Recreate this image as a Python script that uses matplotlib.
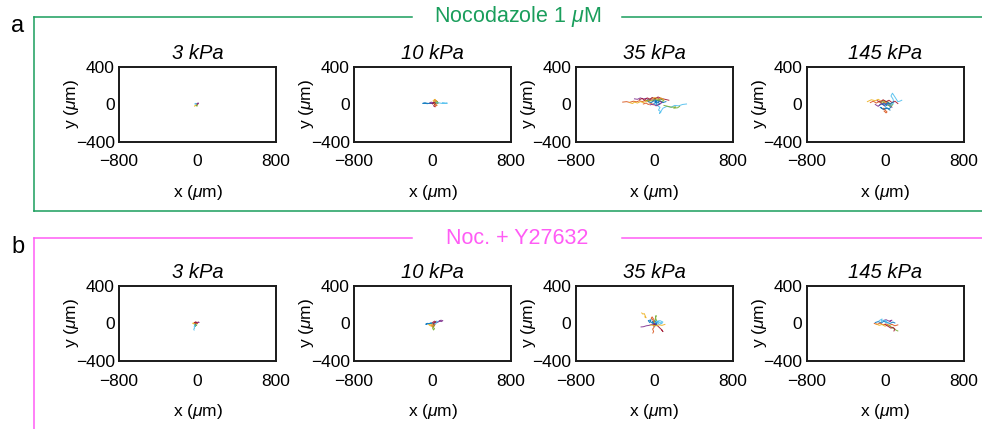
import matplotlib
matplotlib.use("Agg")
import matplotlib.pyplot as plt
from matplotlib.lines import Line2D

plt.rcParams['font.family'] = ['Liberation Sans', 'DejaVu Sans']
plt.rcParams['mathtext.fontset'] = 'custom'
plt.rcParams['mathtext.it'] = 'Liberation Sans:italic'
plt.rcParams['mathtext.rm'] = 'Liberation Sans'

# matlab default line colours
track_colors = ['#0072BD', '#D95319', '#EDB120', '#7E2F8E', '#77AC30', '#4DBEEE', '#A2142F']

stiffness = ['3 kPa', '10 kPa', '35 kPa', '145 kPa']
x_ticks = [-800, 0, 800]
y_ticks = [-400, 0, 400]

# cell trajectories (um), one (x, y) pair per track
noc_3kpa = [
    ([-10, -14, -8, -12, -6, -9], [0, 6, 3, -5, -2, -8]),
    ([-8, -2, -6, 2, -4, 0], [2, 5, -3, 0, 8, 4]),
    ([-12, -20, -16, -26, -30], [-2, -8, -14, -10, -18]),
    ([-6, 0, 6, 10, 4], [4, 10, 8, 14, 16]),
    ([-10, -4, -12, -6], [-4, -10, -12, -18]),
    ([-14, -22, -18, -28], [2, 8, 12, 6]),
]
noc_10kpa = [
    ([0, -30, -55, -80, -100, -70, -40, -10, 20], [10, 14, 8, 14, 12, 16, 10, 14, 12]),
    ([10, 30, 20, 40, 55, 35, 25, 45], [15, 35, 50, 40, 20, 0, -20, -10]),
    ([20, 5, 25, 35, 15, 30], [20, 40, 55, 35, 5, -5]),
    ([10, -15, -30, -5, 15], [18, 25, 15, 10, 22]),
    ([20, 40, 60, 45, 30, 50], [18, 22, 15, 8, 25, 30]),
    ([30, 60, 90, 120, 150, 130, 100], [14, 18, 12, 16, 14, 10, 16]),
    ([0, 15, 30, 10, 25], [5, 25, 10, -15, -25]),
]
noc_35kpa = [
    ([0, 20, 10, 30, 50, 40, 60, 30, 15, 40], [10, 30, 50, 40, 60, 20, 5, -10, 25, 45]),
    ([-320, -280, -250, -210, -180, -150, -120, -90, -60, -30, 0], [25, 30, 22, 35, 28, 40, 30, 45, 38, 50, 42]),
    ([-250, -220, -200, -170, -140, -110, -80, -40], [20, 10, 25, 15, 30, 20, 35, 25]),
    ([-200, -170, -140, -110, -80, -60, -30, 0, 30, 60, 80], [60, 55, 70, 58, 65, 50, 62, 55, 70, 60, 52]),
    ([-80, -50, -20, 10, 40, 70, 100, 80, 50], [40, 50, 35, 55, 45, 60, 40, 30, 45]),
    ([0, 30, 60, 45, 70, 55, 90, 130, 170, 210, 250, 290, 330], [10, -10, -30, -60, -80, -95, -40, -20, -30, -10, -15, 0, 5]),
    ([-150, -120, -100, -70, -40, -20, 10, 40, 70, 110, 150], [50, 65, 45, 70, 55, 75, 60, 80, 65, 55, 45]),
    ([-60, -30, 0, 30, 60, 90, 120], [30, 20, 40, 15, 35, 20, 30]),
    ([-110, -80, -60, -30, -10], [5, 15, 0, 10, -5]),
    ([-20, 10, 40, 70, 100], [60, 75, 55, 70, 50]),
    ([-40, -10, 20, 50, 80, 60], [-5, 5, -15, 0, 20, 35]),
    ([100, 140, 180, 220, 200, 240, 260], [-10, -20, -30, -25, -40, -35, -20]),
]
noc_145kpa = [
    ([-60, -30, 0, 30, 60, 40, 10, -20, -50, -10, 20, 50], [-10, 10, -20, 0, -30, -45, -35, -50, -30, -55, -40, -60]),
    ([-150, -120, -90, -60, -30, -10, 20], [20, 35, 15, 30, 10, 25, 5]),
    ([-180, -140, -100, -70, -40, -20, 0, 30], [30, 50, 40, 55, 35, 45, 20, 30]),
    ([-100, -70, -40, -10, 20, 50, 70], [0, -20, 10, -10, 20, 0, -30]),
    ([-40, -10, 20, 50, 80, 60, 30], [20, 40, 30, 10, 0, -20, -10]),
    ([60, 90, 80, 60, 75, 100, 130, 150, 170], [-10, 20, 60, 90, 120, 80, 30, 35, 45]),
    ([-80, -50, -20, 10, 40, 70, 100, 130], [40, 25, 50, 30, 45, 20, 35, 10]),
    ([-30, -10, 10, 30, 50, 80], [0, 15, -5, 20, 5, 25]),
    ([-20, 0, 20, 10, -10], [-40, -60, -80, -90, -70]),
]
yc_3kpa = [
    ([-20, -25, -15, -30, -22], [0, -10, -20, -15, -30]),
    ([-20, -10, -5, -15, 0, 5], [0, 8, -5, 12, 5, 15]),
    ([-20, -30, -40, -35, -50], [0, 5, -5, 8, 2]),
    ([-15, -5, 5, 10, 15], [5, 10, 8, 15, 12]),
    ([-20, -15, -25, -10], [-5, -15, -25, -20]),
    ([-25, -35, -30, -40, -35], [-20, -35, -50, -60, -70]),
    ([-30, -20, -10, -25], [10, 18, 12, 5]),
]
yc_10kpa = [
    ([10, -10, -30, -50, -70, -40, -20, 0, 20], [0, 5, -5, 2, -8, -4, 6, -2, 4]),
    ([10, 20, 5, -10, 0, 15, 25], [0, -15, -25, -20, -40, -30, -10]),
    ([0, -20, -40, -25, -5, 10], [-5, -15, -10, -25, -30, -20]),
    ([10, 30, 50, 70, 90, 105, 85, 60], [5, 15, 10, 25, 20, 30, 35, 22]),
    ([10, 15, 5, 20, 10, 0], [0, -20, -40, -55, -70, -50]),
    ([10, 30, 45, 25, 40, 55], [0, -5, 10, 15, 25, 20]),
    ([0, 20, 35, 15, 5], [10, 25, 15, 5, -10]),
]
yc_35kpa = [
    ([0, -20, 10, 30, -10, 20, 40, 5, -15, 25], [0, 20, 30, -10, -20, 10, 20, -30, 5, -5]),
    ([-10, 0, -15, -5, -13], [-10, -40, -60, -85, -102]),
    ([-126, -115, -100, -90, -82, -95], [112, 100, 105, 80, 60, 70]),
    ([10, -20, -50, -80, -110, -133], [0, -10, -20, -25, -35, -37]),
    ([0, 10, 20, 15, 25], [10, 40, 84, 60, 30]),
    ([10, 40, 70, 90, 60, 30, 50, 80], [10, 20, 5, 15, 30, 25, -10, 0]),
    ([0, 30, 50, 70, 90, 80], [-10, -20, -40, -60, -87, -70]),
    ([-20, -40, -30, -60, -45], [5, 20, 40, 30, 10]),
    ([0, -15, -30, -20, -5], [15, 40, 55, 70, 45]),
    ([-40, -10, 20, 50, 80, 110], [-15, -20, -25, -15, -20, -10]),
]
yc_145kpa = [
    ([-100, -70, -40, -10, 20, 50, 80, 100], [10, 20, 5, 25, 10, 0, 15, 5]),
    ([-110, -80, -50, -20, 10, 40, 70, 100, 130], [0, -10, 5, -15, -5, -20, -10, -25, -15]),
    ([-90, -60, -30, 0, 30, 60], [-5, -20, -10, -30, -15, -35]),
    ([-20, 10, 40, 70, 50], [30, 40, 25, 35, 20]),
    ([40, 70, 95, 110, 130], [-20, -45, -60, -70, -80]),
    ([-60, -30, -40, -10, 20, 0, 30], [30, 48, 20, 35, 25, 10, 5]),
    ([0, 30, 60, 80, 100, 90], [-10, -30, -50, -40, -60, -80]),
]

rows = [
    dict(label='a', title='Nocodazole 1 $\\mu$M', color='#1a9e5c',
         panels=[noc_3kpa, noc_10kpa, noc_35kpa, noc_145kpa],
         top=0.9604, bottom=0.508, ax_bottom=0.669),
    dict(label='b', title='Noc. + Y27632', color='#ff5cf5',
         panels=[yc_3kpa, yc_10kpa, yc_35kpa, yc_145kpa],
         top=0.4452, bottom=-0.01, ax_bottom=0.1585),
]
ax_lefts = [0.1212, 0.3605, 0.5861, 0.8213]
ax_w, ax_h = 0.160, 0.175

fig = plt.figure(figsize=(9.82, 4.29), dpi=100)

for row in rows:
    c = row['color']
    # bracket lines around the row, with a gap for the header
    fig.add_artist(Line2D([0.0346, 0.0346], [row['bottom'], row['top']], color=c, lw=1.1, transform=fig.transFigure))
    fig.add_artist(Line2D([0.0346, 0.4196], [row['top'], row['top']], color=c, lw=1.1, transform=fig.transFigure))
    fig.add_artist(Line2D([0.6335, 1.0], [row['top'], row['top']], color=c, lw=1.1, transform=fig.transFigure))
    if row['label'] == 'a':
        fig.add_artist(Line2D([0.0346, 1.0], [row['bottom'], row['bottom']], color=c, lw=1.1, transform=fig.transFigure))
    fig.text(0.527, row['top'], row['title'], color=c, fontsize=15.5, ha='center', va='center')
    fig.text(0.018, row['top'] - 0.02, row['label'], fontsize=17, ha='center', va='center')

    for i, tracks in enumerate(row['panels']):
        ax = fig.add_axes([ax_lefts[i], row['ax_bottom'], ax_w, ax_h])
        for k, (xs, ys) in enumerate(tracks):
            ax.plot(xs, ys, color=track_colors[k % len(track_colors)], lw=0.7, alpha=0.9)
        ax.set_xlim(-800, 800)
        ax.set_ylim(-400, 400)
        ax.set_xticks(x_ticks)
        ax.set_yticks(y_ticks)
        ax.tick_params(length=0, labelsize=12.5)
        ax.tick_params(axis='x', pad=9)
        ax.tick_params(axis='y', pad=3)
        for sp in ax.spines.values():
            sp.set_linewidth(1.4)
            sp.set_color('#1a1a1a')
        ax.set_title(stiffness[i], fontsize=14.5, style='italic', pad=6)
        ax.set_xlabel('x ($\\mu$m)', fontsize=12.5)
        ax.set_ylabel('y ($\\mu$m)', fontsize=12.5)
        ax.xaxis.label.set_va('center')
        ax.yaxis.label.set_va('center')
        ax.xaxis.set_label_coords(0.5, -0.667)
        ax.yaxis.set_label_coords(-0.30, 0.5)

fig.savefig('out.png', dpi=100)
